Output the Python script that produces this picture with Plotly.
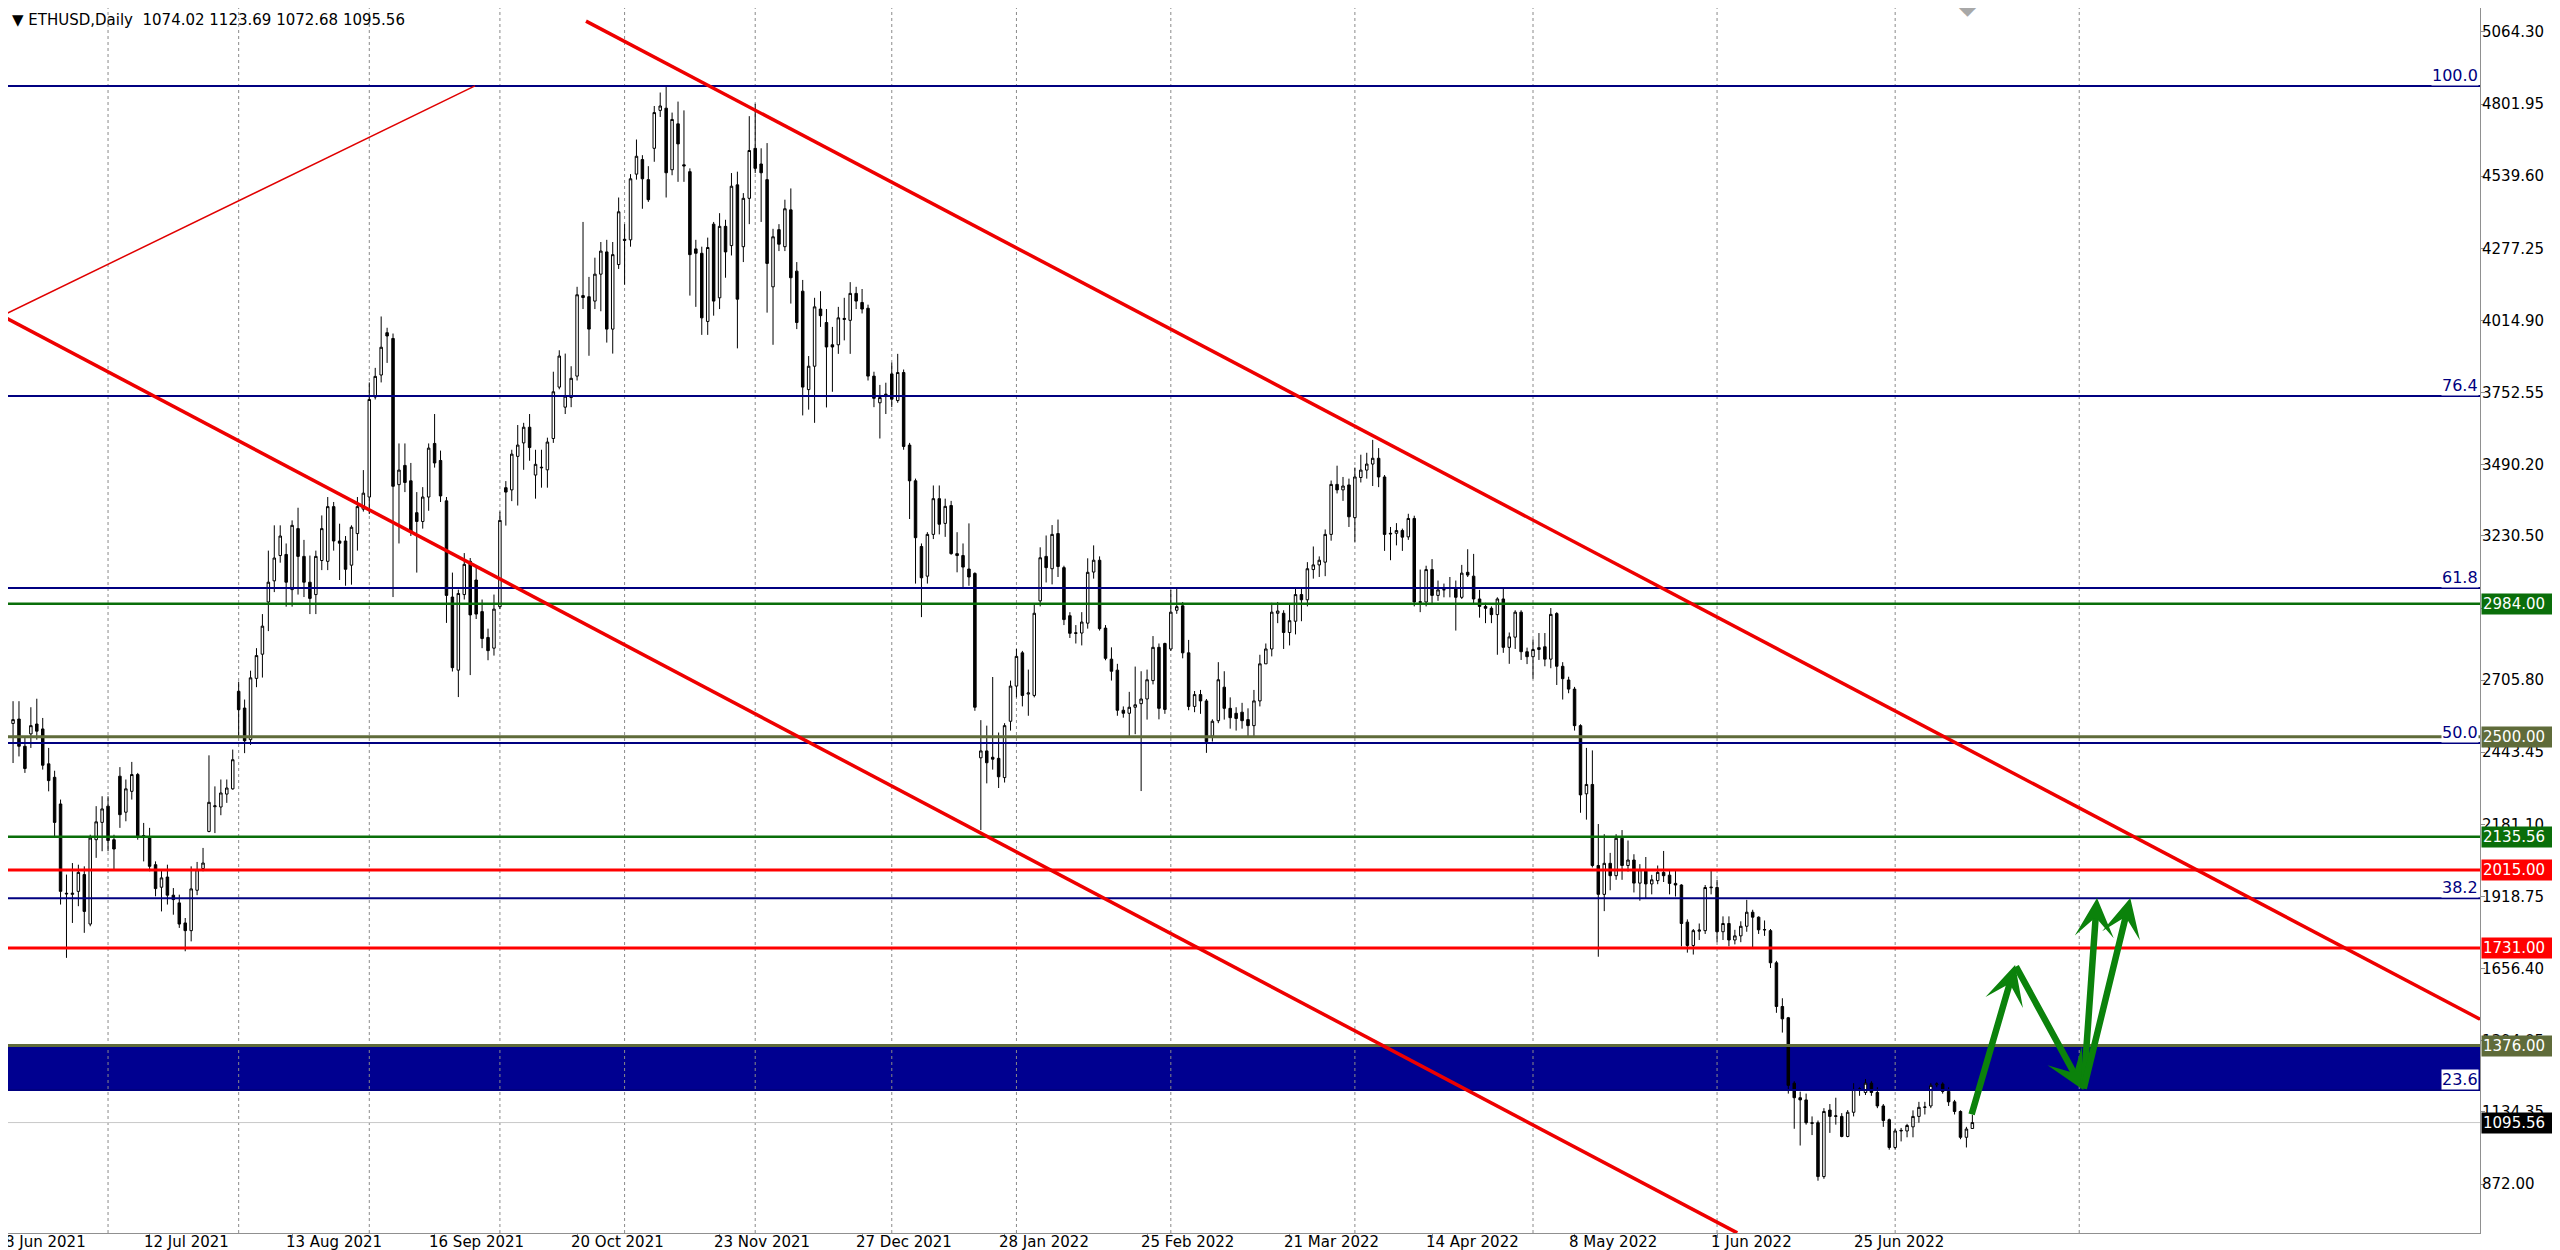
import plotly.graph_objects as go

# ---- daily candles (bar index 1 = 9 Jun 2021) ----
OPEN = [2548, 2564, 2465, 2510, 2546, 2528, 2401, 2352, 2255, 1930, 1926, 1937, 1998, 1818, 2125, 2188, 2247, 2125, 2356, 2225,
        2301, 2362, 2140, 2131, 2034, 1952, 1989, 1923, 1895, 1822, 1794, 1941, 2020, 2155, 2245, 2244, 2291, 2310, 2665, 2604,
        2489, 2712, 2800, 2990, 3067, 3159, 3163, 3035, 3257, 3156, 3062, 3017, 3141, 3138, 3337, 3212, 3212, 3124, 3239, 3328,
        3372, 3736, 3816, 3970, 3949, 3417, 3487, 3431, 3315, 3283, 3372, 3567, 3505, 3358, 3008, 2742, 3017, 3138, 3070, 2955,
        2861, 2822, 2973, 3406, 3398, 3520, 3569, 3626, 3452, 3478, 3471, 3585, 3772, 3699, 3734, 3812, 4105, 4101, 4085, 4183,
        4264, 3983, 4218, 4310, 4308, 4547, 4600, 4527, 4641, 4779, 4787, 4563, 4730, 4581, 4556, 4275, 4259, 4011, 4365, 4097,
        4357, 4287, 4508, 4283, 4459, 4641, 4584, 4527, 4137, 4345, 4283, 4417, 4194, 4121, 3763, 3848, 4056, 4007, 3926, 3926,
        4018, 4015, 4113, 4080, 4059, 3812, 3715, 3742, 3820, 3723, 3825, 3561, 3431, 3192, 3084, 3236, 3366, 3276, 3341, 3166,
        3159, 3110, 3094, 2423, 2448, 2425, 2421, 2351, 2556, 2684, 2805, 2655, 2650, 2994, 3156, 3111, 3239, 3115, 2940, 2878,
        2877, 2913, 3099, 3142, 2895, 2782, 2742, 2596, 2585, 2607, 2620, 2637, 2704, 2825, 2839, 2819, 2960, 2976, 2805, 2610,
        2653, 2630, 2502, 2558, 2680, 2603, 2585, 2589, 2562, 2540, 2630, 2765, 2819, 2949, 2949, 2879, 2920, 3017, 2998, 3108,
        3125, 3135, 3236, 3418, 3398, 3416, 3297, 3443, 3470, 3492, 3513, 3445, 3240, 3240, 3250, 3227, 3294, 2991, 2990, 3108,
        3014, 3034, 3040, 3041, 3007, 3098, 3084, 3001, 2974, 2967, 2944, 3001, 2825, 2862, 2953, 2809, 2791, 2817, 2827, 2782,
        2948, 2756, 2706, 2673, 2540, 2292, 2326, 2031, 1926, 2039, 1994, 2130, 2031, 2051, 1967, 2016, 1964, 1976, 2006, 1996,
        1966, 1960, 1825, 1740, 1792, 1794, 1950, 1951, 1790, 1820, 1760, 1775, 1810, 1861, 1843, 1798, 1794, 1677, 1518, 1477,
        1239, 1186, 1178, 1095, 1095, 899, 1141, 1118, 1118, 1045, 1133, 1216, 1205, 1239, 1205, 1156, 1106, 1005, 1065, 1065,
        1080, 1118, 1151, 1156, 1233, 1236, 1209, 1171, 1136, 1042, 1074.02]
HIGH = [2629, 2629, 2495, 2607, 2638, 2568, 2459, 2376, 2271, 1998, 2040, 2034, 2028, 2143, 2247, 2283, 2283, 2143, 2389, 2344,
        2408, 2368, 2186, 2168, 2046, 2016, 2034, 1949, 1925, 1840, 2028, 2044, 2095, 2432, 2319, 2344, 2344, 2453, 2700, 2635,
        2740, 2822, 2946, 3177, 3269, 3269, 3203, 3287, 3333, 3216, 3159, 3177, 3305, 3372, 3354, 3275, 3230, 3269, 3372, 3470,
        3789, 3842, 4029, 3988, 3967, 3567, 3567, 3496, 3390, 3408, 3567, 3674, 3541, 3372, 3097, 3035, 3168, 3150, 3124, 2999,
        2893, 3017, 3319, 3430, 3544, 3634, 3642, 3674, 3544, 3544, 3588, 3828, 3906, 3894, 3848, 4137, 4373, 4173, 4243, 4300,
        4308, 4300, 4462, 4365, 4547, 4673, 4616, 4576, 4795, 4844, 4865, 4771, 4811, 4779, 4568, 4308, 4283, 4316, 4373, 4405,
        4381, 4551, 4556, 4478, 4758, 4803, 4641, 4660, 4348, 4365, 4454, 4495, 4227, 4162, 3885, 4097, 4121, 4056, 3991, 4064,
        4097, 4154, 4137, 4129, 4072, 3828, 3780, 3788, 3861, 3893, 3836, 3569, 3439, 3203, 3244, 3414, 3414, 3366, 3358, 3244,
        3203, 3276, 3098, 2560, 2540, 2717, 2515, 2549, 2704, 2819, 2812, 2744, 2980, 3189, 3232, 3270, 3290, 3122, 2953, 2906,
        2953, 3149, 3196, 3156, 2906, 2825, 2765, 2610, 2663, 2755, 2738, 2744, 2866, 2839, 2842, 3034, 3041, 2990, 2852, 2666,
        2670, 2637, 2563, 2771, 2738, 2643, 2607, 2623, 2603, 2670, 2798, 2839, 2987, 2990, 2960, 2980, 3044, 3041, 3135, 3192,
        3156, 3254, 3432, 3486, 3445, 3439, 3479, 3526, 3533, 3580, 3550, 3452, 3263, 3277, 3257, 3311, 3304, 3108, 3122, 3146,
        3068, 3057, 3081, 3068, 3125, 3182, 3165, 3034, 2987, 2974, 3007, 3038, 2879, 2960, 2960, 2824, 2854, 2877, 2877, 2968,
        2953, 2771, 2718, 2681, 2545, 2459, 2450, 2182, 2145, 2077, 2145, 2160, 2122, 2072, 2036, 2062, 1997, 2031, 2084, 2012,
        2016, 1963, 1835, 1800, 1820, 1960, 2012, 1979, 1846, 1846, 1797, 1828, 1906, 1870, 1846, 1831, 1800, 1684, 1548, 1480,
        1246, 1208, 1201, 1118, 1103, 1148, 1163, 1186, 1130, 1141, 1239, 1224, 1254, 1246, 1224, 1163, 1110, 1073, 1076, 1091,
        1140, 1171, 1171, 1239, 1242, 1242, 1224, 1178, 1140, 1080, 1123.69]
LOW = [2404, 2428, 2368, 2459, 2489, 2380, 2301, 2137, 1889, 1695, 1822, 1883, 1786, 1810, 2059, 2083, 2083, 2016, 2168, 2192,
       2271, 2125, 2046, 2010, 1919, 1864, 1889, 1852, 1804, 1719, 1755, 1923, 2010, 2152, 2149, 2214, 2259, 2307, 2500, 2440,
       2470, 2680, 2715, 2884, 3026, 3133, 2973, 2973, 3017, 3008, 2946, 2946, 3106, 3106, 3177, 3070, 3049, 3053, 3177, 3319,
       3310, 3727, 3789, 3860, 3008, 3203, 3390, 3230, 3097, 3257, 3322, 3479, 3354, 2914, 2737, 2644, 2999, 2724, 2928, 2822,
       2778, 2795, 2964, 3268, 3357, 3341, 3471, 3504, 3366, 3406, 3406, 3569, 3764, 3674, 3699, 3796, 4056, 3886, 4056, 4048,
       3934, 3894, 4202, 4145, 4283, 4527, 4421, 4446, 4592, 4755, 4462, 4543, 4519, 4519, 4105, 4064, 3962, 3962, 4032, 4056,
       4170, 4251, 3913, 4227, 4365, 4551, 4373, 4043, 3926, 4267, 4267, 4076, 3983, 3669, 3690, 3642, 3991, 3698, 3755, 3893,
       3942, 3893, 4056, 4040, 3796, 3699, 3585, 3674, 3699, 3715, 3544, 3292, 3057, 2935, 3057, 3219, 3236, 3227, 3162, 3098,
       3041, 3049, 2594, 2160, 2330, 2380, 2313, 2333, 2522, 2643, 2610, 2576, 2643, 2974, 3061, 3054, 3081, 2906, 2859, 2839,
       2832, 2893, 3075, 2886, 2778, 2704, 2576, 2569, 2502, 2509, 2302, 2562, 2690, 2563, 2583, 2812, 2947, 2785, 2596, 2589,
       2583, 2441, 2482, 2549, 2562, 2529, 2522, 2529, 2495, 2502, 2610, 2765, 2792, 2913, 2819, 2832, 2872, 2920, 2974, 3075,
       3081, 3084, 3213, 3385, 3358, 3263, 3209, 3425, 3439, 3412, 3408, 3176, 3142, 3196, 3176, 3216, 2974, 2953, 2974, 2980,
       2994, 3007, 3007, 2886, 3001, 3081, 2980, 2933, 2913, 2913, 2798, 2805, 2765, 2819, 2779, 2764, 2711, 2779, 2756, 2749,
       2688, 2635, 2658, 2522, 2223, 2198, 2024, 1699, 1865, 1941, 1979, 1979, 2009, 1933, 1903, 1911, 1926, 1963, 1971, 1926,
       1918, 1737, 1714, 1707, 1760, 1782, 1926, 1752, 1760, 1737, 1744, 1752, 1790, 1729, 1782, 1775, 1658, 1495, 1423, 1201,
       1073, 1012, 1088, 1050, 884, 891, 1058, 1088, 1042, 1042, 1118, 1193, 1196, 1193, 1148, 1080, 997, 997, 1027, 1042,
       1042, 1095, 1125, 1148, 1224, 1201, 1156, 1125, 1035, 1005, 1072.68]
CLOSE = [2562, 2465, 2384, 2540, 2520, 2396, 2340, 2188, 1937, 1928, 1930, 2006, 1864, 2131, 2190, 2237, 2122, 2091, 2216, 2310,
         2362, 2137, 2133, 2028, 1947, 1986, 1923, 1907, 1818, 1794, 1946, 2016, 2040, 2261, 2248, 2295, 2313, 2416, 2598, 2485,
         2714, 2795, 2902, 3062, 3150, 3230, 3062, 3269, 3156, 3062, 3003, 3156, 3257, 3337, 3212, 3204, 3109, 3262, 3337, 3386,
         3727, 3811, 3917, 3958, 3411, 3470, 3425, 3248, 3283, 3372, 3550, 3496, 3376, 3014, 2751, 3021, 3127, 2943, 2946, 2857,
         2813, 2964, 3287, 3390, 3528, 3561, 3626, 3552, 3491, 3480, 3572, 3755, 3885, 3739, 3804, 4108, 4098, 3983, 4183, 4267,
         3983, 4254, 4410, 4306, 4530, 4612, 4530, 4454, 4771, 4795, 4552, 4746, 4657, 4577, 4254, 4259, 4024, 4280, 4085, 4357,
         4264, 4503, 4092, 4459, 4633, 4568, 4552, 4222, 4319, 4292, 4421, 4170, 4007, 3772, 3848, 4064, 4032, 3918, 3918, 4024,
         4022, 4113, 4085, 4056, 3812, 3731, 3734, 3746, 3728, 3825, 3556, 3431, 3224, 3078, 3236, 3366, 3273, 3338, 3166, 3159,
         3117, 3081, 2607, 2448, 2405, 2418, 2354, 2540, 2684, 2792, 2650, 2659, 2949, 3151, 3115, 3236, 3119, 2926, 2876, 2876,
         2917, 3098, 3142, 2893, 2785, 2738, 2596, 2585, 2607, 2616, 2637, 2707, 2825, 2603, 2599, 2953, 2973, 2805, 2610, 2653,
         2630, 2482, 2556, 2707, 2603, 2569, 2566, 2558, 2540, 2630, 2765, 2819, 2953, 2957, 2879, 2922, 3017, 2998, 3111, 3125,
         3142, 3236, 3418, 3398, 3412, 3300, 3445, 3470, 3492, 3513, 3445, 3236, 3238, 3250, 3226, 3294, 2990, 2989, 3108, 3014,
         3034, 3035, 3041, 3007, 3095, 3088, 3001, 2974, 2967, 2944, 3001, 2825, 2863, 2953, 2809, 2791, 2817, 2824, 2782, 2945,
         2756, 2711, 2673, 2540, 2288, 2326, 2031, 1926, 2039, 1994, 2130, 2031, 2051, 1967, 2016, 1964, 1979, 2006, 1994, 1966,
         1960, 1820, 1740, 1794, 1796, 1951, 1952, 1790, 1820, 1760, 1775, 1810, 1861, 1843, 1797, 1797, 1677, 1518, 1473, 1231,
         1186, 1178, 1095, 1093, 899, 1136, 1118, 1120, 1045, 1133, 1216, 1218, 1239, 1205, 1156, 1103, 1005, 1065, 1067, 1085,
         1118, 1151, 1152, 1231, 1236, 1209, 1171, 1136, 1042, 1072, 1095.56]
FIRST_BAR = 1
BARS = list(range(FIRST_BAR, FIRST_BAR + len(CLOSE)))

# ---- time axis ----
DATE_BARS = [0, 24, 48, 72, 96, 120, 144, 168, 192, 216, 240, 264, 288, 312]
DATE_LABELS = ["8 Jun 2021", "12 Jul 2021", "13 Aug 2021", "16 Sep 2021", "20 Oct 2021", "23 Nov 2021",
               "27 Dec 2021", "28 Jan 2022", "25 Feb 2022", "21 Mar 2022", "14 Apr 2022", "8 May 2022",
               "1 Jun 2022", "25 Jun 2022"]
MONTH_BARS = [17, 39, 61, 83, 104, 126, 149, 170, 196, 227, 257, 288, 318, 349]
X_RANGE = [0.15, 416.5]

# ---- price axis ----
PRICE_TICKS = [5064.30, 4801.95, 4539.60, 4277.25, 4014.90, 3752.55, 3490.20, 3230.50, 2968.15,
               2705.80, 2443.45, 2181.10, 1918.75, 1656.40, 1394.05, 1134.35, 872.00]
Y_RANGE = [693.7, 5151.6]

# ---- fibonacci retracement ----
FIB_LOW, FIB_HIGH = 85, 4868
FIB_RATIOS = [23.6, 38.2, 50.0, 61.8, 76.4, 100.0]
FIB_BASE_BARS = [-5, 78.8]
FIB_BASE_PRICES = [3988, 4868]

# ---- horizontal levels ----
LEVEL_PRICES = [2984.00, 2500.00, 2135.56, 2015.00, 1731.00, 1376.00]
LEVEL_KIND = ["green", "olive", "green", "red", "red", "olive"]

# ---- channel ----
UPPER_BARS = [97.5, 416.5]
UPPER_PRICES = [5104, 1472]
LOWER_BARS = [-10, 291.4]
LOWER_PRICES = [4136, 694]

# ---- projected path ----
PATH_BARS = [330.8, 338.2, 349.7, 352.0, 357.6]
PATH_PRICES = [1120, 1669, 1214, 1913, 1913]

NAVY = "#000080"
KIND_COLOR = {"green": "#0a6e0a", "olive": "#5f6b3a", "red": "#ff0000"}
KIND_WIDTH = {"green": 2.5, "olive": 3, "red": 3}
FONT = "DejaVu Sans"

fib_prices = [FIB_LOW + r / 100 * (FIB_HIGH - FIB_LOW) for r in FIB_RATIOS]


def to_paper(b):
    return (b - X_RANGE[0]) / (X_RANGE[1] - X_RANGE[0])


fig = go.Figure()
fig.add_trace(go.Candlestick(
    x=BARS, open=OPEN, high=HIGH, low=LOW, close=CLOSE,
    increasing=dict(fillcolor="white", line=dict(color="black", width=1)),
    decreasing=dict(fillcolor="black", line=dict(color="black", width=1)),
    whiskerwidth=0, showlegend=False, hoverinfo="skip",
))

shapes = []
# support zone between 23.6 level and 1376
shapes.append(dict(type="rect", xref="paper", x0=0, x1=1, yref="y",
                   y0=fib_prices[0], y1=LEVEL_PRICES[-1], fillcolor="#000090",
                   line=dict(width=0), layer="below"))
for b in MONTH_BARS:
    shapes.append(dict(type="line", xref="x", x0=b, x1=b, yref="paper", y0=0, y1=1,
                       line=dict(color="#8a8a8a", width=1, dash="3px,3px"), layer="below"))
# last price line
shapes.append(dict(type="line", xref="paper", x0=0, x1=1, yref="y", y0=CLOSE[-1], y1=CLOSE[-1],
                   line=dict(color="#c8c8c8", width=1), layer="below"))
for p in fib_prices:
    shapes.append(dict(type="line", xref="paper", x0=0, x1=1, yref="y", y0=p, y1=p,
                       line=dict(color=NAVY, width=2)))
for p, k in zip(LEVEL_PRICES, LEVEL_KIND):
    shapes.append(dict(type="line", xref="paper", x0=0, x1=1, yref="y", y0=p, y1=p,
                       line=dict(color=KIND_COLOR[k], width=KIND_WIDTH[k])))
shapes.append(dict(type="line", x0=FIB_BASE_BARS[0], x1=FIB_BASE_BARS[1],
                   y0=FIB_BASE_PRICES[0], y1=FIB_BASE_PRICES[1], line=dict(color="#e00000", width=1.5)))
shapes.append(dict(type="line", x0=UPPER_BARS[0], x1=UPPER_BARS[1],
                   y0=UPPER_PRICES[0], y1=UPPER_PRICES[1], line=dict(color="#ee0000", width=3.5)))
shapes.append(dict(type="line", x0=LOWER_BARS[0], x1=LOWER_BARS[1],
                   y0=LOWER_PRICES[0], y1=LOWER_PRICES[1], line=dict(color="#ee0000", width=3.5)))
# right window border
shapes.append(dict(type="line", xref="paper", x0=1.0336, x1=1.0336, yref="paper", y0=-0.03, y1=1.0,
                   line=dict(color="#d0d0d0", width=1)))

ann = []
ann.append(dict(xref="paper", yref="paper", x=0, y=1, xanchor="left", yanchor="top",
                xshift=2, yshift=-1, showarrow=False,
                text=f"\u25bc ETHUSD,Daily  {OPEN[-1]:.2f} {HIGH[-1]:.2f} {LOW[-1]:.2f} {CLOSE[-1]:.2f}",
                font=dict(family=FONT, size=15, color="black")))
for b, t in zip(DATE_BARS, DATE_LABELS):
    # the first label sits at the left border and is partly cut, as in the terminal
    ann.append(dict(xref="paper", yref="paper", x=to_paper(b), y=0, xanchor="left", yanchor="top",
                    xshift=-7 if b > 0 else -3, yshift=1, showarrow=False, text=t, borderpad=0,
                    font=dict(family=FONT, size=15, color="black")))
for r, p in zip(FIB_RATIOS, fib_prices):
    ann.append(dict(xref="paper", yref="y", x=1, y=p, xanchor="right", yanchor="bottom",
                    xshift=-1, yshift=0, showarrow=False, text=f"{r:.1f}", bgcolor="white",
                    borderpad=0, font=dict(family=FONT, size=16, color=NAVY)))
tags = [(p, KIND_COLOR[k]) for p, k in zip(LEVEL_PRICES, LEVEL_KIND)] + [(CLOSE[-1], "black")]
for p, c in tags:
    ann.append(dict(xref="paper", yref="y", x=1, y=p, xanchor="left", yanchor="middle",
                    xshift=1, showarrow=False, text=f"{p:.2f}", bgcolor=c, width=72, align="left",
                    borderpad=1, font=dict(family=FONT, size=15, color="white")))
# projected path arrows
segs = [(0, 1), (1, 2), (2, 3), (2, 4)]
for a, b in segs:
    ann.append(dict(xref="x", yref="y", axref="x", ayref="y",
                    x=PATH_BARS[b], y=PATH_PRICES[b], ax=PATH_BARS[a], ay=PATH_PRICES[a],
                    showarrow=True, arrowhead=3, arrowsize=1.0, arrowwidth=6.5,
                    arrowcolor="#0b820b", text=""))
# chart shift marker
ann.append(dict(xref="paper", yref="paper", x=to_paper(332.0), y=1, yanchor="middle", yshift=2,
                showarrow=False, text="\u25c6", font=dict(size=22, color="#a8a8a8")))

fig.update_layout(
    width=2560, height=1250,
    margin=dict(l=0, r=88, t=0, b=25),
    paper_bgcolor="white", plot_bgcolor="white",
    showlegend=False, boxgap=0.4,
    font=dict(family=FONT, size=15, color="black"),
    xaxis=dict(range=X_RANGE, tickvals=DATE_BARS, showticklabels=False, ticks="outside",
               ticklen=4, tickcolor="#909090", showgrid=False, zeroline=False,
               showline=True, linecolor="#909090", linewidth=1,
               rangeslider=dict(visible=False)),
    yaxis=dict(side="right", range=Y_RANGE, tickvals=PRICE_TICKS, tickformat=".2f",
               ticks="outside", ticklen=4, tickcolor="#909090", showgrid=False, zeroline=False,
               showline=True, linecolor="#909090", linewidth=1, ticklabelstandoff=-6,
               tickfont=dict(family=FONT, size=15, color="black")),
    shapes=shapes, annotations=ann,
)

fig.write_html("out.html")
